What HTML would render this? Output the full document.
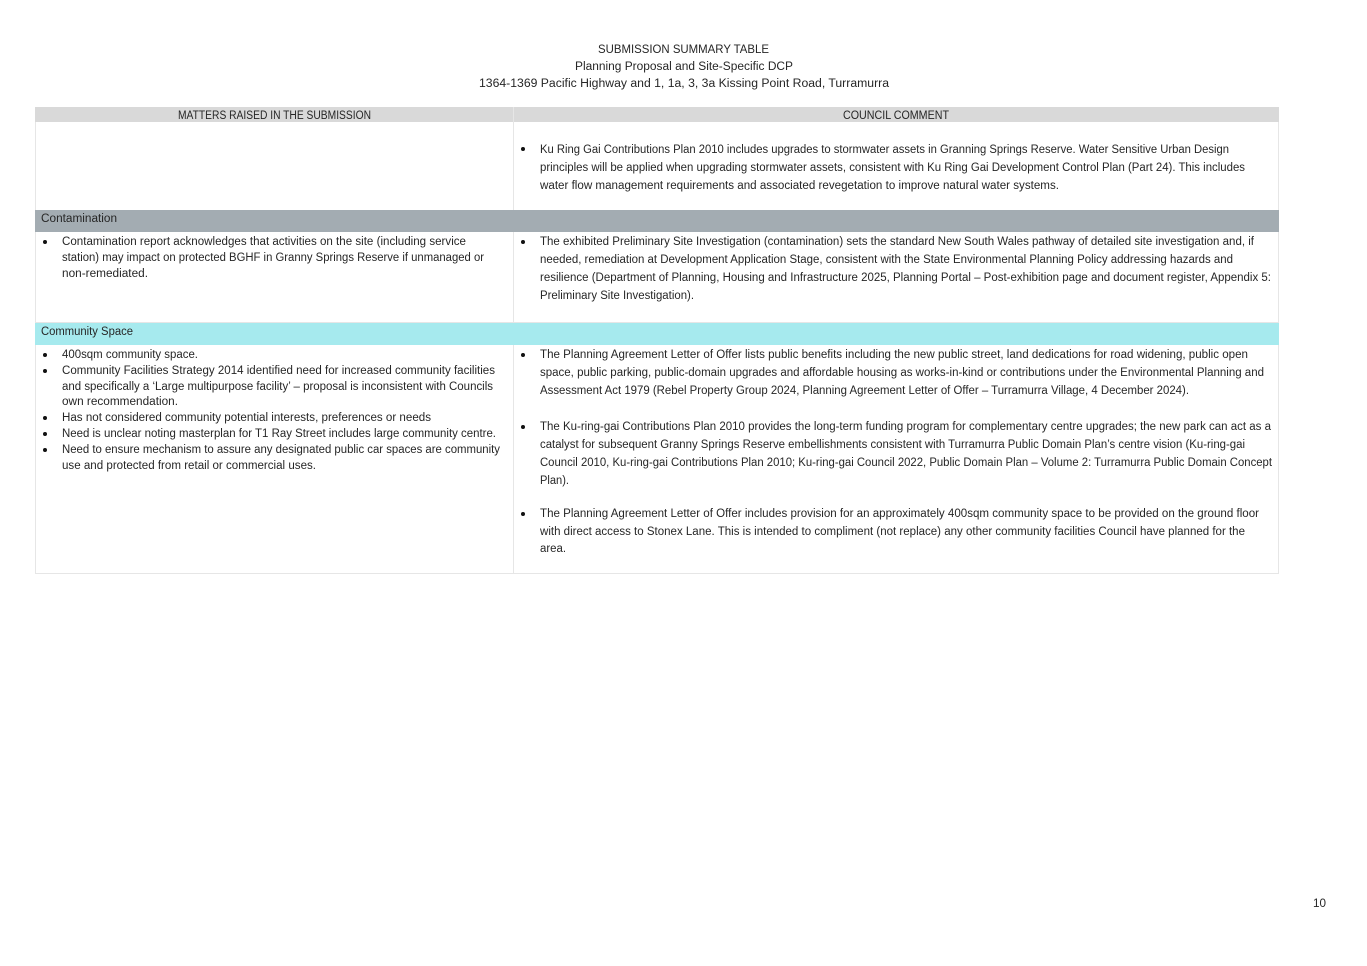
<!DOCTYPE html>
<html><head><meta charset="utf-8"><style>
html,body{margin:0;padding:0;background:#fff;}
svg{display:block;}
text{font-family:"Liberation Sans",sans-serif;font-size:11.5px;fill:#262626;}
</style></head><body>
<svg width="1367" height="966" viewBox="0 0 1367 966" xmlns="http://www.w3.org/2000/svg">
<rect x="0" y="0" width="1367" height="966" fill="#fff"/>
<g lengthAdjust="spacingAndGlyphs">
<text x="598" y="53" textLength="171" lengthAdjust="spacingAndGlyphs">SUBMISSION SUMMARY TABLE</text>
<text x="575" y="70" textLength="218" lengthAdjust="spacingAndGlyphs">Planning Proposal and Site-Specific DCP</text>
<text x="479" y="87" textLength="410" lengthAdjust="spacingAndGlyphs">1364-1369 Pacific Highway and 1, 1a, 3, 3a Kissing Point Road, Turramurra</text>
</g>
<rect x="35.5" y="107.5" width="1243" height="466" fill="none" stroke="#e6e6e6"/>
<rect x="35" y="107" width="1244" height="15" fill="#d9d9d9"/>
<rect x="35" y="210" width="1244" height="22" fill="#a3acb2"/>
<rect x="35" y="323" width="1244" height="22" fill="#a6eaee"/>
<line x1="513.5" y1="107" x2="513.5" y2="210" stroke="#e6e6e6"/>
<line x1="513.5" y1="232" x2="513.5" y2="322" stroke="#e6e6e6"/>
<line x1="513.5" y1="345" x2="513.5" y2="574" stroke="#e6e6e6"/>
<line x1="35" y1="322.5" x2="1279" y2="322.5" stroke="#e6e6e6"/>
<text x="178" y="119" textLength="193" lengthAdjust="spacingAndGlyphs">MATTERS RAISED IN THE SUBMISSION</text>
<text x="843" y="119" textLength="106" lengthAdjust="spacingAndGlyphs">COUNCIL COMMENT</text>
<text x="41" y="222" textLength="76" lengthAdjust="spacingAndGlyphs">Contamination</text>
<text x="41" y="335" textLength="92" lengthAdjust="spacingAndGlyphs">Community Space</text>
<g fill="#111">
<circle cx="523" cy="149" r="2"/>
<circle cx="523" cy="242" r="2"/>
<circle cx="45" cy="242" r="2"/>
<circle cx="523" cy="355" r="2"/>
<circle cx="523" cy="427" r="2"/>
<circle cx="523" cy="514" r="2"/>
<circle cx="45" cy="355" r="2"/>
<circle cx="45" cy="371" r="2"/>
<circle cx="45" cy="418" r="2"/>
<circle cx="45" cy="434" r="2"/>
<circle cx="45" cy="450" r="2"/>
</g>
<g>
<text x="540" y="153" textLength="689" lengthAdjust="spacingAndGlyphs">Ku Ring Gai Contributions Plan 2010 includes upgrades to stormwater assets in Granning Springs Reserve. Water Sensitive Urban Design</text>
<text x="540" y="171" textLength="705" lengthAdjust="spacingAndGlyphs">principles will be applied when upgrading stormwater assets, consistent with Ku Ring Gai Development Control Plan (Part 24). This includes</text>
<text x="540" y="189" textLength="519" lengthAdjust="spacingAndGlyphs">water flow management requirements and associated revegetation to improve natural water systems.</text>

<text x="62" y="245" textLength="404" lengthAdjust="spacingAndGlyphs">Contamination report acknowledges that activities on the site (including service</text>
<text x="62" y="261" textLength="422" lengthAdjust="spacingAndGlyphs">station) may impact on protected BGHF in Granny Springs Reserve if unmanaged or</text>
<text x="62" y="277" textLength="86" lengthAdjust="spacingAndGlyphs">non-remediated.</text>

<text x="540" y="245" textLength="714" lengthAdjust="spacingAndGlyphs">The exhibited Preliminary Site Investigation (contamination) sets the standard New South Wales pathway of detailed site investigation and, if</text>
<text x="540" y="263" textLength="693" lengthAdjust="spacingAndGlyphs">needed, remediation at Development Application Stage, consistent with the State Environmental Planning Policy addressing hazards and</text>
<text x="540" y="281" textLength="731" lengthAdjust="spacingAndGlyphs">resilience (Department of Planning, Housing and Infrastructure 2025, Planning Portal – Post-exhibition page and document register, Appendix 5:</text>
<text x="540" y="299" textLength="154" lengthAdjust="spacingAndGlyphs">Preliminary Site Investigation).</text>

<text x="62" y="358" textLength="136" lengthAdjust="spacingAndGlyphs">400sqm community space.</text>
<text x="62" y="374" textLength="433" lengthAdjust="spacingAndGlyphs">Community Facilities Strategy 2014 identified need for increased community facilities</text>
<text x="62" y="390" textLength="431" lengthAdjust="spacingAndGlyphs">and specifically a ‘Large multipurpose facility’ – proposal is inconsistent with Councils</text>
<text x="62" y="405" textLength="116" lengthAdjust="spacingAndGlyphs">own recommendation.</text>
<text x="62" y="421" textLength="369" lengthAdjust="spacingAndGlyphs">Has not considered community potential interests, preferences or needs</text>
<text x="62" y="437" textLength="434" lengthAdjust="spacingAndGlyphs">Need is unclear noting masterplan for T1 Ray Street includes large community centre.</text>
<text x="62" y="453" textLength="438" lengthAdjust="spacingAndGlyphs">Need to ensure mechanism to assure any designated public car spaces are community</text>
<text x="62" y="469" textLength="254" lengthAdjust="spacingAndGlyphs">use and protected from retail or commercial uses.</text>

<text x="540" y="358" textLength="708" lengthAdjust="spacingAndGlyphs">The Planning Agreement Letter of Offer lists public benefits including the new public street, land dedications for road widening, public open</text>
<text x="540" y="376" textLength="724" lengthAdjust="spacingAndGlyphs">space, public parking, public-domain upgrades and affordable housing as works-in-kind or contributions under the Environmental Planning and</text>
<text x="540" y="394" textLength="649" lengthAdjust="spacingAndGlyphs">Assessment Act 1979 (Rebel Property Group 2024, Planning Agreement Letter of Offer – Turramurra Village, 4 December 2024).</text>

<text x="540" y="430" textLength="731" lengthAdjust="spacingAndGlyphs">The Ku-ring-gai Contributions Plan 2010 provides the long-term funding program for complementary centre upgrades; the new park can act as a</text>
<text x="540" y="448" textLength="705" lengthAdjust="spacingAndGlyphs">catalyst for subsequent Granny Springs Reserve embellishments consistent with Turramurra Public Domain Plan’s centre vision (Ku-ring-gai</text>
<text x="540" y="466" textLength="732" lengthAdjust="spacingAndGlyphs">Council 2010, Ku-ring-gai Contributions Plan 2010; Ku-ring-gai Council 2022, Public Domain Plan – Volume 2: Turramurra Public Domain Concept</text>
<text x="540" y="484" textLength="29" lengthAdjust="spacingAndGlyphs">Plan).</text>

<text x="540" y="517" textLength="719" lengthAdjust="spacingAndGlyphs">The Planning Agreement Letter of Offer includes provision for an approximately 400sqm community space to be provided on the ground floor</text>
<text x="540" y="535" textLength="705" lengthAdjust="spacingAndGlyphs">with direct access to Stonex Lane. This is intended to compliment (not replace) any other community facilities Council have planned for the</text>
<text x="540" y="552" textLength="26" lengthAdjust="spacingAndGlyphs">area.</text>
</g>
<text x="1313" y="907" textLength="13" lengthAdjust="spacingAndGlyphs">10</text>
</svg>
</body></html>
